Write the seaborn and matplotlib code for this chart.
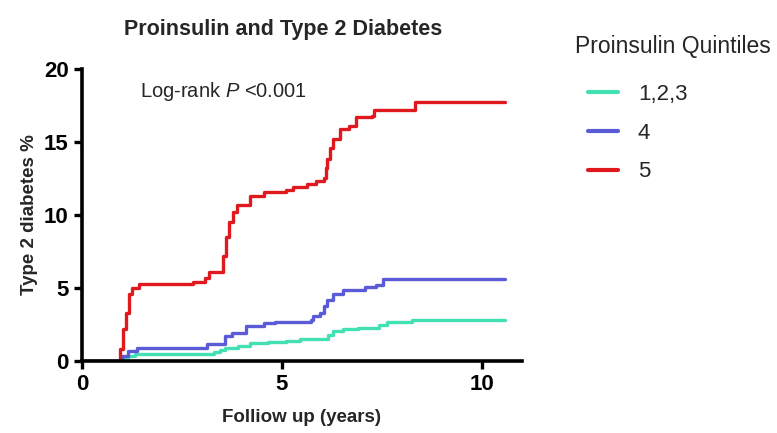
import numpy as np
import pandas as pd
import matplotlib
matplotlib.use("Agg")
import matplotlib.pyplot as plt
import seaborn as sns

# Kaplan-Meier style cumulative incidence (%)
t_low = [0, 0.84, 1.02, 1.15, 1.33, 2.41, 3.3, 3.45, 3.58, 3.9, 4.2, 4.65, 5.1, 5.46, 6.0, 6.15, 6.27, 6.54, 6.9, 7.44, 7.62, 8.25, 10.58]
y_low = [0, 0, 0.2, 0.35, 0.5, 0.5, 0.6, 0.75, 0.9, 1.05, 1.25, 1.3, 1.4, 1.5, 1.5, 1.8, 2.05, 2.2, 2.3, 2.5, 2.65, 2.8, 2.8]

t_q4 = [0, 0.84, 1.0, 1.15, 1.37, 3.08, 3.13, 3.4, 3.58, 3.76, 4.11, 4.56, 4.83, 5.73, 5.78, 5.96, 6.05, 6.14, 6.27, 6.54, 7.08, 7.35, 7.53, 10.58]
y_q4 = [0, 0, 0.35, 0.7, 0.87, 0.9, 1.15, 1.15, 1.7, 1.95, 2.4, 2.6, 2.65, 2.8, 3.1, 3.3, 3.8, 4.2, 4.6, 4.9, 5.1, 5.2, 5.6, 5.6]

t_q5 = [0, 0.84, 0.95, 1.02, 1.1, 1.18, 1.24, 1.42, 2.77, 3.08, 3.17, 3.44, 3.53, 3.6, 3.67, 3.78, 3.89, 4.2, 4.56, 5.1, 5.28, 5.64, 5.86, 6.05, 6.1, 6.14, 6.2, 6.27, 6.45, 6.68, 6.85, 7.26, 7.3, 8.29, 8.33, 10.58]
y_q5 = [0, 0, 0.8, 2.2, 3.3, 4.6, 5.0, 5.3, 5.4, 5.7, 6.1, 6.1, 7.2, 8.5, 9.5, 10.2, 10.7, 11.3, 11.6, 11.7, 11.9, 12.1, 12.3, 12.5, 13.2, 13.8, 14.6, 15.2, 15.9, 16.1, 16.7, 16.8, 17.2, 17.2, 17.7, 17.7]

groups = ["1,2,3", "4", "5"]
colors = ["#43e0b4", "#5b5bd8", "#e0191e"]

df = pd.concat([
    pd.DataFrame({"time": t_low, "pct": y_low, "group": groups[0]}),
    pd.DataFrame({"time": t_q4, "pct": y_q4, "group": groups[1]}),
    pd.DataFrame({"time": t_q5, "pct": y_q5, "group": groups[2]}),
])

sns.set_style("ticks")
plt.rcParams['font.family'] = ['Liberation Sans', 'DejaVu Sans']
plt.rcParams['mathtext.fontset'] = 'custom'
plt.rcParams['mathtext.it'] = 'Liberation Sans:italic'
plt.rcParams['mathtext.rm'] = 'Liberation Sans'

fig = plt.figure(figsize=(7.77, 4.33), dpi=100)
ax = fig.add_axes([0.1055, 0.166, 0.566, 0.675])

sns.lineplot(data=df, x="time", y="pct", hue="group", palette=colors,
             drawstyle="steps-post", linewidth=2.4, ax=ax, estimator=None, sort=False)

ax.set_xlim(0, 11)
ax.set_ylim(0, 20)
ax.set_xticks([0, 5, 10])
ax.set_yticks([0, 5, 10, 15, 20])
sns.despine(ax=ax)
for s in ["left", "bottom"]:
    ax.spines[s].set_linewidth(2.6)
    ax.spines[s].set_color("black")
ax.tick_params(width=2.4, length=6, color="black", labelsize=16, labelcolor="black")
for lab in ax.get_xticklabels() + ax.get_yticklabels():
    lab.set_fontweight("bold")

ax.set_xlabel("Folliow up (years)", fontsize=13.5, fontweight="bold", labelpad=10)
ax.set_ylabel("Type 2 diabetes %", fontsize=13.5, fontweight="bold", labelpad=4)
fig.text(283 / 777, 1 - 30 / 433, "Proinsulin and Type 2 Diabetes", ha="center", va="center",
         fontsize=15.5, fontweight="bold")

ax.text(0.132, 0.921, r"Log-rank $\mathit{P}$ <0.001", transform=ax.transAxes,
        fontsize=14.5, va="center")

fig.text(575 / 777, 1 - 47 / 433, "Proinsulin Quintiles", ha="left", va="center",
         fontsize=16.5)
leg = ax.legend(loc="upper left",
                bbox_to_anchor=(579 / 777, 1 - 75 / 433), bbox_transform=fig.transFigure,
                frameon=False, fontsize=16, handlelength=1.35,
                handletextpad=0.9, labelspacing=0.8, borderaxespad=0.0)
for h in leg.legend_handles:
    h.set_linewidth(3)

fig.savefig("out.png", dpi=100)
